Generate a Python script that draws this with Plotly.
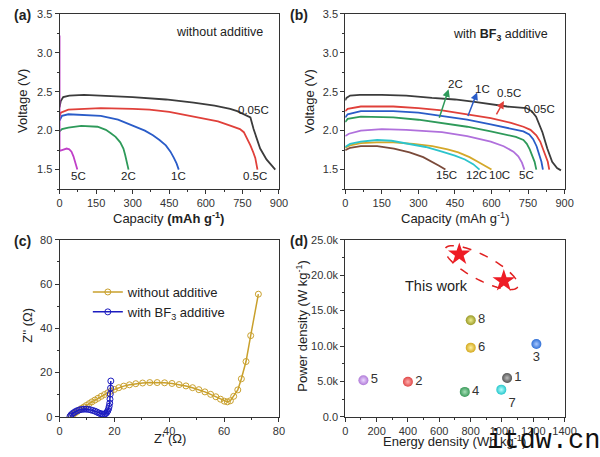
import numpy as np
import plotly.graph_objects as go

# ---------------- data ----------------
# Panel (a): without additive, discharge curves (capacity mAh/g, voltage V)
a_005_cap = [0, 5, 15, 40, 100, 170, 300, 436, 550, 636, 700, 729, 760, 783, 796, 810, 823, 849, 870, 885]
a_005_v = [2.30, 2.38, 2.43, 2.45, 2.46, 2.45, 2.43, 2.40, 2.36, 2.32, 2.28, 2.25, 2.21, 2.17, 2.02, 1.88, 1.77, 1.63, 1.55, 1.50]
a_05_cap = [0, 5, 36, 100, 169, 300, 369, 450, 569, 650, 703, 740, 756, 770, 783, 795, 803, 812]
a_05_v = [2.18, 2.23, 2.27, 2.28, 2.29, 2.28, 2.27, 2.24, 2.17, 2.12, 2.06, 2.02, 1.98, 1.90, 1.81, 1.72, 1.65, 1.50]
a_1_cap = [0, 10, 36, 100, 169, 240, 303, 350, 383, 410, 436, 455, 469, 480, 489]
a_1_v = [2.13, 2.19, 2.21, 2.20, 2.19, 2.14, 2.06, 2.00, 1.94, 1.88, 1.81, 1.73, 1.65, 1.58, 1.50]
a_2_cap = [0, 10, 36, 89, 156, 190, 209, 230, 249, 262, 269, 277, 283]
a_2_v = [1.99, 2.02, 2.04, 2.06, 2.05, 2.01, 1.97, 1.92, 1.85, 1.77, 1.69, 1.60, 1.50]
a_5_cap = [0, 0, 10, 29, 40, 49, 57, 63, 68, 73]
a_5_v = [3.22, 1.74, 1.75, 1.77, 1.76, 1.73, 1.67, 1.60, 1.55, 1.50]

# Panel (b): with BF3 additive
b_005_cap = [0, 5, 20, 60, 150, 250, 356, 450, 531, 600, 664, 743, 765, 783, 797, 809, 829, 849, 869, 885]
b_005_v = [2.39, 2.42, 2.45, 2.46, 2.46, 2.45, 2.42, 2.40, 2.37, 2.34, 2.31, 2.29, 2.25, 2.18, 2.08, 1.98, 1.77, 1.60, 1.52, 1.49]
b_05_cap = [0, 10, 64, 197, 300, 397, 500, 597, 680, 731, 760, 784, 800, 811, 822, 831, 837]
b_05_v = [2.25, 2.28, 2.31, 2.31, 2.29, 2.26, 2.21, 2.16, 2.10, 2.05, 2.01, 1.94, 1.86, 1.77, 1.68, 1.60, 1.50]
b_1_cap = [0, 10, 64, 197, 300, 397, 500, 597, 680, 731, 755, 771, 785, 797, 805, 811]
b_1_v = [2.17, 2.21, 2.25, 2.25, 2.23, 2.19, 2.14, 2.08, 2.03, 1.99, 1.95, 1.89, 1.80, 1.69, 1.60, 1.50]
b_2_cap = [0, 10, 64, 197, 300, 397, 500, 597, 660, 700, 731, 745, 757, 768, 777, 784]
b_2_v = [2.11, 2.15, 2.18, 2.17, 2.14, 2.10, 2.05, 1.99, 1.95, 1.92, 1.88, 1.83, 1.76, 1.68, 1.60, 1.50]
b_5_cap = [0, 15, 64, 150, 250, 397, 500, 597, 650, 690, 710, 725, 735]
b_5_v = [1.93, 1.96, 2.00, 2.02, 2.01, 1.98, 1.93, 1.86, 1.80, 1.73, 1.67, 1.59, 1.50]
b_10_cap = [0, 20, 64, 130, 197, 280, 357, 420, 464, 510, 544, 575, 600]
b_10_v = [1.78, 1.81, 1.84, 1.85, 1.85, 1.83, 1.80, 1.76, 1.72, 1.66, 1.60, 1.55, 1.50]
b_12_cap = [0, 20, 64, 131, 190, 264, 330, 397, 450, 491, 525, 551]
b_12_v = [1.79, 1.83, 1.86, 1.88, 1.87, 1.83, 1.79, 1.73, 1.68, 1.63, 1.57, 1.50]
b_15_cap = [0, 20, 64, 131, 200, 264, 320, 357, 385, 411]
b_15_v = [1.75, 1.78, 1.80, 1.80, 1.77, 1.72, 1.66, 1.60, 1.55, 1.50]

# Panel (c): Nyquist plots (Z' , Z'')
c_wo_re = [4.0, 4.8, 5.6, 6.4, 7.2, 8.0, 8.9, 9.8, 10.8, 11.8, 12.9, 14.0, 15.2, 16.4, 17.6, 18.7,
           20.0, 21.6, 23.4, 25.5, 27.8, 30.3, 32.9, 35.6, 38.3, 41.0, 43.6, 46.1, 48.5, 50.8,
           53.0, 55.1, 57.0, 58.7, 60.1, 61.2, 62.3, 63.5, 65.0, 66.3, 68.0, 69.7, 72.5]
c_wo_im = [0.3, 1.0, 1.7, 2.4, 3.1, 3.8, 4.5, 5.2, 6.0, 6.8, 7.6, 8.4, 9.3, 10.1, 10.9, 11.6,
           12.4, 13.2, 13.9, 14.5, 15.0, 15.3, 15.5, 15.5, 15.4, 15.1, 14.6, 14.0, 13.2, 12.3,
           11.3, 10.2, 9.1, 8.0, 7.1, 6.8, 7.3, 9.3, 12.2, 17.2, 25.0, 36.7, 55.4]
c_bf_re = [3.8, 4.2, 4.7, 5.3, 5.9, 6.6, 7.3, 8.1, 8.9, 9.7, 10.5, 11.3, 12.1, 12.9, 13.6, 14.3,
           14.9, 15.5, 16.0, 16.5, 16.9, 17.3, 17.6, 17.9, 18.1, 18.3, 18.4, 18.5, 18.6, 18.7]
c_bf_im = [0.2, 0.9, 1.5, 2.0, 2.5, 2.9, 3.2, 3.4, 3.5, 3.5, 3.4, 3.2, 2.9, 2.6, 2.2, 1.8,
           1.5, 1.3, 1.2, 1.3, 1.6, 2.1, 2.8, 3.7, 4.8, 6.2, 8.0, 10.3, 13.0, 16.2]

# Panel (d): Ragone comparison
d_labels = ["1", "2", "3", "4", "5", "6", "7", "8"]
d_energy = [1033, 400, 1220, 763, 116, 801, 996, 801]
d_power = [5500, 4950, 10280, 3530, 5180, 9770, 3850, 13640]
d_colors = ["#555555", "#e04848", "#2f6fd6", "#3a9a5a", "#b07ad8", "#d4aa20", "#28c8cc", "#9a9a28"]
d_light = ["#bbbbbb", "#ffb0b0", "#a8c8ff", "#a8e0b8", "#ecd8ff", "#fff0a0", "#b8ffff", "#eeee90"]
d_textpos = ["middle right", "middle right", "bottom center", "middle right",
             "middle right", "middle right", "bottom right", "middle right"]
this_energy = [728, 1012]
this_power = [22940, 19180]

# ---------------- figure ----------------
W, H = 600, 457
fig = go.Figure()

BLACK = "#3c3c3c"
RED = "#e0403a"
BLUE = "#2a5cc8"
GREEN = "#2e9a5a"

def line(x, y, color, xa, ya, width=1.8):
    fig.add_trace(go.Scatter(x=x, y=y, mode="lines", line=dict(color=color, width=width),
                             xaxis=xa, yaxis=ya, showlegend=False, hoverinfo="skip"))

# (a)
line(a_005_cap, a_005_v, BLACK, "x", "y")
line(a_05_cap, a_05_v, RED, "x", "y")
line(a_1_cap, a_1_v, BLUE, "x", "y")
line(a_2_cap, a_2_v, GREEN, "x", "y")
line(a_5_cap, a_5_v, "#c040c8", "x", "y")
# (b)
line(b_005_cap, b_005_v, BLACK, "x2", "y2")
line(b_05_cap, b_05_v, RED, "x2", "y2")
line(b_1_cap, b_1_v, BLUE, "x2", "y2")
line(b_2_cap, b_2_v, GREEN, "x2", "y2")
line(b_5_cap, b_5_v, "#b070dc", "x2", "y2")
line(b_10_cap, b_10_v, "#d4a82a", "x2", "y2")
line(b_12_cap, b_12_v, "#2cc4cc", "x2", "y2")
line(b_15_cap, b_15_v, "#7a4a3a", "x2", "y2")

# (c)
fig.add_trace(go.Scatter(x=c_wo_re, y=c_wo_im, mode="lines+markers", name="without additive",
                         line=dict(color="#c9a02c", width=1.5),
                         marker=dict(symbol="circle-open", size=6, color="#c9a02c", line=dict(width=1)),
                         xaxis="x3", yaxis="y3", legendrank=1))
fig.add_trace(go.Scatter(x=c_bf_re, y=c_bf_im, mode="lines+markers", name="with BF<sub>3</sub> additive",
                         line=dict(color="#1c1cc0", width=1.5),
                         marker=dict(symbol="circle-open", size=6, color="#1c1cc0", line=dict(width=1)),
                         xaxis="x3", yaxis="y3", legendrank=2))

# (d)
fig.add_trace(go.Scatter(x=d_energy, y=d_power, mode="markers+text", text=d_labels,
                         textposition=d_textpos, textfont=dict(size=13, color="#333333"),
                         marker=dict(size=10, color=d_colors, line=dict(width=0),
                                     gradient=dict(type="radial", color=d_light)),
                         xaxis="x4", yaxis="y4", showlegend=False, hoverinfo="skip"))
fig.add_trace(go.Scatter(x=this_energy, y=this_power, mode="markers",
                         marker=dict(symbol="star", size=17, color="#ee1c25", line=dict(width=0)),
                         xaxis="x4", yaxis="y4", showlegend=False, hoverinfo="skip"))

# dashed ellipse around "this work" (computed in pixel space, converted to data)
px_per_x = (576 - 351) / 1400.0
px_per_y = (422 - 240) / 25000.0
cx, cy = np.mean(this_energy), np.mean(this_power)
a_px, b_px, ang = 42.0, 12.5, np.deg2rad(28.0)
t = np.linspace(0, 2 * np.pi, 97)
dx = a_px * np.cos(t) * np.cos(ang) - b_px * np.sin(t) * np.sin(ang)
dy = a_px * np.cos(t) * np.sin(ang) + b_px * np.sin(t) * np.cos(ang)  # screen-down
ex = cx + dx / px_per_x
ey = cy - dy / px_per_y
path = "M " + " L ".join(f"{x:.2f},{y:.2f}" for x, y in zip(ex, ey)) + " Z"
fig.add_shape(type="path", path=path, xref="x4", yref="y4",
              line=dict(color="#e02020", width=1.5, dash="dash"))

# ---------------- axes ----------------
TICKFONT = dict(family="Liberation Sans, Arial, sans-serif", size=11, color="#333333")

def axis(domain, rng, dtick, minor_dtick, anchor, tickvals=None, ticktext=None):
    d = dict(domain=domain, range=rng, showline=True, mirror=True, linecolor="#333333", linewidth=1,
             ticks="outside", ticklen=4, tickwidth=1, tickcolor="#333333", showgrid=False,
             zeroline=False, tickfont=TICKFONT, anchor=anchor,
             minor=dict(ticks="outside", ticklen=2, tickwidth=1, tickcolor="#333333", dtick=minor_dtick,
                        showgrid=False))
    if tickvals is not None:
        d.update(tickmode="array", tickvals=tickvals, ticktext=ticktext)
    else:
        d.update(dtick=dtick, tick0=0)
    return d

dom_top_y = [1 - 188 / H, 1 - 8 / H]
dom_bot_y = [1 - 422 / H, 1 - 240 / H]
dom_left_x = [58 / W, 283 / W]
dom_right_x = [351 / W, 576 / W]

fig.update_layout(
    width=W, height=H, margin=dict(l=0, r=0, t=0, b=0),
    paper_bgcolor="white", plot_bgcolor="white",
    font=dict(family="Liberation Sans, Arial, sans-serif", color="#222222"),
    xaxis=axis(dom_left_x, [0, 900], 150, 75, "y"),
    yaxis=axis(dom_top_y, [1.25, 3.5], 0.5, 0.25, "x", [1.5, 2.0, 2.5, 3.0, 3.5], ["1.5", "2.0", "2.5", "3.0", "3.5"]),
    xaxis2=axis(dom_right_x, [0, 900], 150, 75, "y2"),
    yaxis2=axis(dom_top_y, [1.25, 3.5], 0.5, 0.25, "x2", [1.5, 2.0, 2.5, 3.0, 3.5], ["1.5", "2.0", "2.5", "3.0", "3.5"]),
    xaxis3=axis(dom_left_x, [0, 80], 20, 10, "y3"),
    yaxis3=axis(dom_bot_y, [0, 80], 20, 10, "x3"),
    xaxis4=axis(dom_right_x, [0, 1400], 200, 100, "y4"),
    yaxis4=axis(dom_bot_y, [0, 25000], 5000, 2500, "x4", [0, 5000, 10000, 15000, 20000, 25000],
                ["0.0", "5.0k", "10.0k", "15.0k", "20.0k", "25.0k"]),
    legend=dict(x=87 / W, y=1 - 304 / H, xanchor="left", yanchor="middle",
                font=dict(size=13, color="#222222"), bgcolor="rgba(0,0,0,0)",
                tracegroupgap=0, itemwidth=30),
    showlegend=True,
)

ann = []
def text(x, y, s, size=12, xref="paper", yref="paper", xanchor="center", yanchor="middle", angle=0, color="#222222", family=None):
    d = dict(x=x, y=y, text=s, xref=xref, yref=yref, showarrow=False, xanchor=xanchor, yanchor=yanchor,
             textangle=angle, font=dict(size=size, color=color))
    if family:
        d["font"]["family"] = family
    ann.append(d)

# panel labels
text(9 / W, 1 - 9 / H, "<b>(a)</b>", 14, xanchor="left")
text(292 / W, 1 - 9 / H, "<b>(b)</b>", 14, xanchor="left")
text(9 / W, 1 - 241 / H, "<b>(c)</b>", 14, xanchor="left")
text(292 / W, 1 - 241 / H, "<b>(d)</b>", 14, xanchor="left")

# axis titles
text(170 / W, 1 - 218 / H, "Capacity <b>(mAh g<sup>-1</sup>)</b>", 13)
text(20 / W, 1 - 98 / H, "Voltage (V)", 13, angle=-90)
text(464 / W, 1 - 218 / H, "Capacity (mAh g<sup>-1</sup>)", 13)
text(314 / W, 1 - 98 / H, "Voltage (V)", 13, angle=-90)
text(171 / W, 1 - 444 / H, "Z' (Ω)", 13)
text(25 / W, 1 - 328 / H, "Z'' (Ω)", 13, angle=-90)
text(463 / W, 1 - 447 / H, "Energy density (Wh kg<sup>-1</sup>)", 13)
text(307 / W, 1 - 328 / H, "Power density (W kg<sup>-1</sup>)", 13, angle=-90)

# in-plot texts (a)
text(656, 3.27, "without additive", 12.5, "x", "y")
for s, x, y in [("0.05C", 796, 2.27), ("0.5C", 803, 1.42), ("1C", 489, 1.42), ("2C", 283, 1.42), ("5C", 76, 1.42)]:
    text(x, y, s, 11.5, "x", "y")
# (b)
text(639, 3.23, "with <b>BF<sub>3</sub></b> additive", 12.5, "x2", "y2")
for s, x, y in [("0.05C", 797, 2.28), ("0.5C", 670, 2.48), ("1C", 564, 2.54), ("2C", 451, 2.60),
                ("15C", 417, 1.43), ("12C", 537, 1.43), ("10C", 631, 1.43), ("5C", 744, 1.43)]:
    text(x, y, s, 11.5, "x2", "y2")
# arrows (b)
for (x0, y0, x1, y1, col) in [(384, 2.145, 424, 2.53, GREEN), (501, 2.17, 541, 2.49, BLUE), (617, 2.19, 651, 2.38, RED)]:
    ann.append(dict(x=x1, y=y1, ax=x0, ay=y0, xref="x2", yref="y2", axref="x2", ayref="y2",
                    showarrow=True, arrowhead=2, arrowsize=1, arrowwidth=1.5, arrowcolor=col, text=""))
# (d)
text(585, 18400, "This work", 14.5, "x4", "y4")

# watermark
text(494 / W, 1 - 447 / H, "itdw.cn", 27, xanchor="left", color="#111111", family="Liberation Mono, monospace")

fig.update_layout(annotations=ann)

fig.write_html("out.html", config={"displayModeBar": False},
               post_script="document.body.style.margin='0';")
